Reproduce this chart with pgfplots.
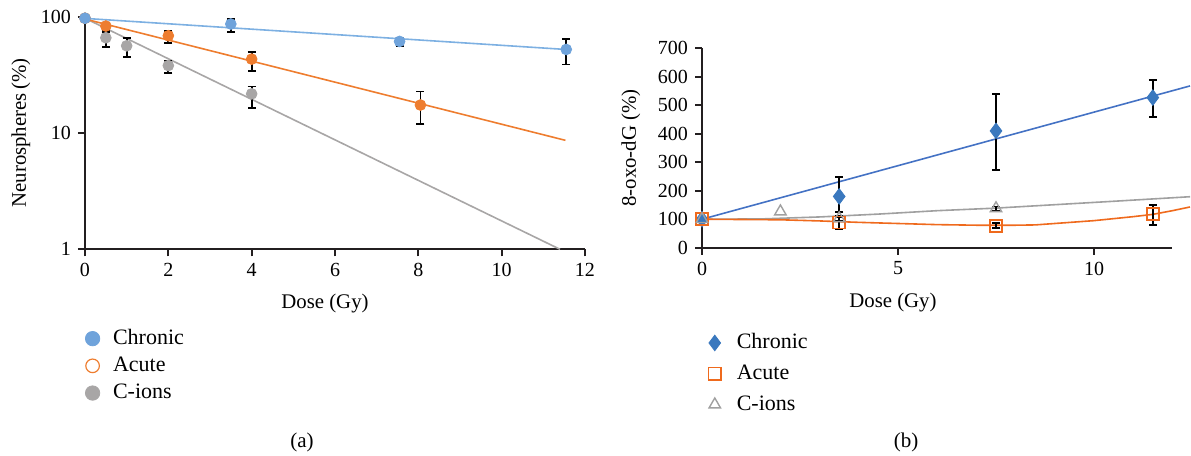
\documentclass[border=0pt]{standalone}
\usepackage{fontspec}
\setmainfont{Liberation Serif}
\usepackage{pgfplots}
\pgfplotsset{compat=1.18}
\definecolor{axiscol}{HTML}{231F20}
\definecolor{blueA}{HTML}{6FA3DB}
\definecolor{blueAline}{HTML}{7DB0E2}
\definecolor{orangeA}{HTML}{EE7D2F}
\definecolor{grayA}{HTML}{A8A6A6}
\definecolor{blueB}{HTML}{3A78BE}
\definecolor{blueBline}{HTML}{4472C4}
\definecolor{orangeB}{HTML}{EF6A1D}
\definecolor{grayB}{HTML}{A0A0A0}
\pgfplotsset{
  myaxis/.style={
    scale only axis,
    axis x line=bottom, axis y line=left,
    axis line style={line width=0.9pt, color=axiscol, -},
    tick align=outside,
    major tick length=3.5pt,
    every tick/.style={line width=0.9pt, color=axiscol},
    ticklabel style={font=\fontsize{10}{12}\selectfont},
    label style={font=\fontsize{10.4}{12}\selectfont},
    /pgf/number format/assume math mode=true,
    clip=false,
    legend cell align=left,
    legend image code/.code={\draw[mark repeat=2,mark phase=2,##1] plot coordinates {(0pt,0pt) (5pt,0pt) (10pt,0pt)};},
  },
  myerr/.style={error bars/.cd, y dir=both, y explicit,
    error bar style={black, line width=0.9pt},
    error mark options={rotate=90, black, mark size=2pt, line width=0.9pt}},
}
\begin{document}
\begin{tikzpicture}
\path[use as bounding box] (0,0) rectangle (595.5pt,-228pt);
% ---------------- panel (a)
\begin{axis}[myaxis,
  at={(42.5pt,-124.65pt)}, anchor=south west,
  width=250pt, height=116.3pt,
  ymode=log, ymin=1, ymax=100, xmin=0, xmax=12,
  xtick={0,2,4,6,8,10,12},
  ytick={1,10,100}, yticklabels={1,10,100},
  yminorticks=false,
  xlabel={Dose (Gy)}, ylabel={Neurospheres\,(\%)},
  xlabel style={at={(axis description cs:0.48,-0.231)}, anchor=center},
  ylabel style={at={(axis description cs:-0.128,0.5)}, anchor=center},
  reverse legend,
  legend style={at={(axis description cs:-0.012,-0.320)}, anchor=north west,
    draw=none, fill=none, font=\fontsize{11}{13}\selectfont,
    column sep=6.6pt, row sep=3.1pt,
    nodes={inner sep=0pt, text height=8pt, text depth=2.5pt}},
]
% fitted lines
\addplot[grayA, line width=0.8pt, forget plot] coordinates {(0,97) (11.4,1)};
\addplot[orangeA, line width=0.8pt, forget plot] coordinates {(0,95.5) (11.53,8.65)};
\addplot[blueAline, line width=0.8pt, forget plot] coordinates {(0,96.7) (11.53,52.3)};
% data
\addplot[only marks, mark=*, mark size=2.7pt, color=grayA, mark options={fill=grayA, draw=grayA},
  legend image post style={mark size=3.6pt}, myerr]
  coordinates {(0,97) (0.5,65.9) += (0,8.5) -= (0,10.8) (1,56.2) += (0,9.7) -= (0,11) (2,38.0) += (0,3.5) -= (0,5.1) (4,21.7) += (0,3.4) -= (0,5.2)};
\addlegendentry{C-ions}
\addplot[only marks, mark=*, mark size=2.7pt, color=orangeA, mark options={fill=orangeA, draw=orangeA},
  legend image post style={mark size=3.4pt, mark options={fill=white, draw=orangeA, line width=0.6pt}}, myerr]
  coordinates {(0,97) (0.5,83.1) += (0,6) -= (0,6) (2,68.6) += (0,6.6) -= (0,8.9) (4,43.2) += (0,6.7) -= (0,9.2) (8.05,17.4) += (0,5.3) -= (0,5.4)};
\addlegendentry{Acute}
\addplot[only marks, mark=*, mark size=2.7pt, color=blueA, mark options={fill=blueA, draw=blueA},
  legend image post style={mark size=3.6pt}, myerr]
  coordinates {(0,97) (3.5,86.5) += (0,9) -= (0,13) (7.55,61.3) += (0,5) -= (0,5.4) (11.55,52.3) += (0,12) -= (0,13.5)};
\addlegendentry{Chronic}
\end{axis}
% ---------------- panel (b)
\begin{axis}[myaxis,
  at={(351pt,-123.85pt)}, anchor=south west,
  width=235.2pt, height=99.7pt,
  ymin=0, ymax=700, xmin=0, xmax=12,
  xtick={0,5,10}, ytick={0,100,...,700},
  xlabel={Dose (Gy)}, ylabel={8-oxo-dG (\%)},
  xlabel style={at={(axis description cs:0.406,-0.276)}, anchor=center},
  ylabel style={at={(axis description cs:-0.151,0.5)}, anchor=center},
  legend style={at={(axis description cs:0.0,-0.403)}, anchor=north west,
    draw=none, fill=none, font=\fontsize{11}{13}\selectfont,
    column sep=7.8pt, row sep=4.9pt,
    nodes={inner sep=0pt, text height=8pt, text depth=2.5pt}},
]
\addplot[blueBline, line width=0.8pt, forget plot] coordinates {(0,100) (12.45,568)};
\addplot[grayB, line width=0.8pt, forget plot] coordinates {(0,100) (1.5,101) (3,108) (4.5,118) (6,130) (7.5,139) (9,151) (10.5,163) (12.45,179)};
\addplot[orangeB, line width=0.8pt, forget plot] coordinates {(0,100) (1,99) (2,98) (3,94) (4,89) (5,85) (6,81) (7,79) (8,79) (8.5,80) (9,85) (10,95) (11,109) (11.5,117) (12,130) (12.45,143)};
\addplot[only marks, mark=diamond*, mark size=3.9pt, color=blueB, mark options={fill=blueB, draw=blueB},
  legend image post style={mark size=3.9pt}, myerr]
  coordinates {(0,100) (3.5,180) += (0,67) -= (0,55) (7.5,410) += (0,130) -= (0,138) (11.5,527) += (0,61) -= (0,67)};
\addlegendentry{Chronic}
\addplot[only marks, mark=square, mark size=3pt, color=orangeB, mark options={draw=orangeB, line width=0.8pt},
  legend image post style={mark size=3.2pt}, myerr]
  coordinates {(0,100) (3.5,88) += (0,20) -= (0,22) (7.5,76) += (0,12) -= (0,8) (11.5,118) += (0,32) -= (0,38)};
\addlegendentry{Acute}
\addplot[only marks, mark=triangle, mark size=3.3pt, color=grayB, mark options={draw=grayB, line width=0.7pt}, myerr]
  coordinates {(0,100) (2,127) (3.5,103) += (0,8) -= (0,8) (7.5,138) += (0,7) -= (0,10)};
\addlegendentry{C-ions}
\end{axis}
\node[font=\fontsize{10.5}{12}\selectfont] at (151pt,-221pt) {(a)};
\node[font=\fontsize{10.5}{12}\selectfont] at (453pt,-221pt) {(b)};
\end{tikzpicture}
\end{document}
